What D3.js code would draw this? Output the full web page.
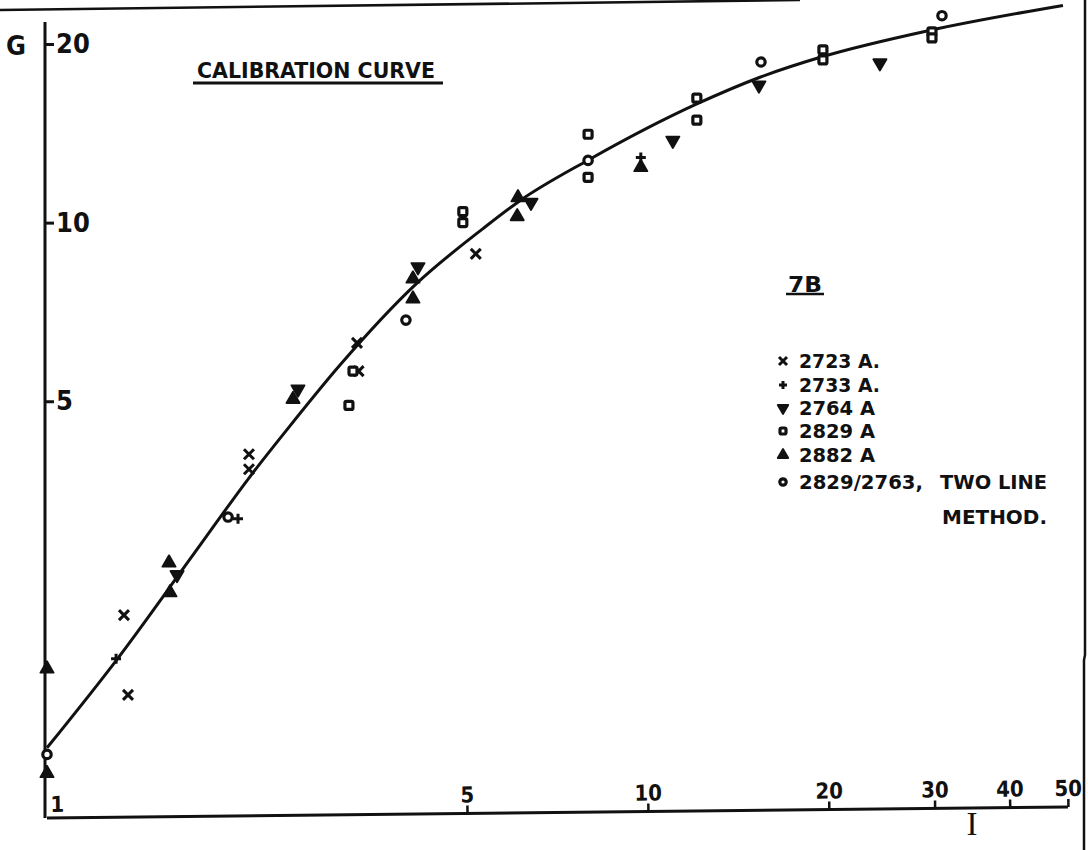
<!DOCTYPE html>
<html>
<head>
<meta charset="utf-8">
<script src="https://cdn.jsdelivr.net/npm/d3@7"></script>
<style>
  html, body { margin: 0; padding: 0; background: #fff; }
  svg { display: block; }
  text { font-family: "DejaVu Sans Condensed", "DejaVu Sans", sans-serif; font-weight: bold; fill: #111; }
</style>
</head>
<body>
<svg id="chart" width="1088" height="850"></svg>
<script>
// Calibration curve: G against I, both on logarithmic scales.
const curveI = [1.000, 1.308, 1.750, 2.177, 2.512, 3.073, 4.127, 5.315, 6.124, 7.947, 12.06, 15.36, 19.55, 29.46, 49.04];
const curveG = [1.303, 1.837, 2.754, 3.733, 4.487, 5.754, 7.907, 9.772, 10.89, 12.74, 15.85, 17.58, 19.05, 21.09, 23.23];

// Measured points [I, G] for each line
const pts2723 = [[1.343, 2.18], [1.364, 1.60], [2.168, 4.07], [2.168, 3.84], [3.28, 6.27], [3.30, 5.62], [5.17, 8.86]];
const pts2733 = [[1.303, 1.84], [2.079, 3.17], [9.73, 12.88]];
const pts2764 = [[1.646, 2.55], [2.616, 5.24], [4.143, 8.42], [6.388, 10.81], [11.0, 13.76], [15.30, 17.05], [24.32, 18.58]];
const pts2829 = [[3.23, 5.62], [3.18, 4.92], [4.92, 10.44], [4.92, 10.0], [7.95, 14.09], [7.95, 11.92], [12.06, 16.21], [12.06, 14.88], [19.55, 19.55], [19.55, 18.80], [29.69, 20.97], [29.69, 20.48]];
const pts2882 = [[1.0, 1.77], [1.0, 1.18], [1.596, 2.67], [1.602, 2.38], [2.567, 5.04], [4.064, 8.04], [4.064, 7.44], [6.077, 11.02], [6.06, 10.24], [9.73, 12.39]];
const pts2829_2763 = [[1.0, 1.27], [2.001, 3.19], [3.956, 6.85], [7.95, 12.73], [15.42, 18.65], [30.85, 22.32]];

const xTicks = [1, 5, 10, 20, 30, 40, 50];
const yTicks = [5, 10, 20];

const seriesLabels = ["2723 A.", "2733 A.", "2764 A", "2829 A", "2882 A", "2829/2763,"];
const seriesSymbols = ["cross", "plus", "triDown", "square", "triUp", "circle"];
const seriesPoints = [pts2723, pts2733, pts2764, pts2829, pts2882, pts2829_2763];

const svg = d3.select("#chart");
const ink = "#111";

const x = d3.scaleLog().domain([1, 50]).range([47, 1068]);
const y = d3.scaleLog().domain([1, 20]).range([816, 44]);

// Frame edges
svg.append("line").attr("x1", 0).attr("y1", 10).attr("x2", 800).attr("y2", 0)
  .attr("stroke", ink).attr("stroke-width", 2.5);
svg.append("polyline").attr("points", "1085,0 1085,655 1084,660 1084,850")
  .attr("fill", "none").attr("stroke", ink).attr("stroke-width", 2.5);

// Y axis
svg.append("line").attr("x1", 45).attr("y1", 22).attr("x2", 45).attr("y2", 818)
  .attr("stroke", ink).attr("stroke-width", 3);
const yAxis = svg.append("g").attr("transform", "translate(45,0)")
  .call(d3.axisRight(y).tickValues(yTicks).tickFormat(d3.format("d")).tickSize(9).tickPadding(2));
yAxis.select(".domain").remove();
yAxis.selectAll(".tick line").attr("stroke", ink).attr("stroke-width", 3);
yAxis.selectAll(".tick text").style("font-size", "27px").attr("fill", ink);

svg.append("text").attr("x", 16).attr("y", 45).attr("dy", "0.36em")
  .attr("text-anchor", "middle").style("font-size", "27px").text("G");

// X axis (slightly tilted baseline)
const xAxis = svg.append("g").attr("transform", "translate(0,818) rotate(-0.62,47,0)")
  .call(d3.axisTop(x).tickValues(xTicks).tickFormat(d3.format("d")).tickSize(8).tickPadding(3).tickSizeOuter(0));
xAxis.select(".domain").attr("stroke", ink).attr("stroke-width", 3)
  .attr("d", `M${x(1)},0H${x(50)}`);
xAxis.selectAll(".tick line").attr("stroke", ink).attr("stroke-width", 2.5);
xAxis.selectAll(".tick text").style("font-size", "22px").attr("fill", ink);
xAxis.selectAll(".tick").filter(d => d === 1).select("line").remove();
xAxis.selectAll(".tick").filter(d => d === 1).select("text").attr("dx", 10).attr("y", -6);

svg.append("text").attr("x", 972).attr("y", 835)
  .attr("text-anchor", "middle")
  .style("font-family", "'Liberation Serif', 'DejaVu Serif', serif")
  .style("font-weight", "normal").style("font-size", "33px").text("I");

// Title
svg.append("text").attr("x", 197).attr("y", 78)
  .attr("textLength", 238).attr("lengthAdjust", "spacingAndGlyphs")
  .style("font-size", "22px").text("CALIBRATION CURVE");
svg.append("line").attr("x1", 193).attr("y1", 83).attr("x2", 443).attr("y2", 83)
  .attr("stroke", ink).attr("stroke-width", 3);

// Calibration curve
const line = d3.line().x(d => x(d[0])).y(d => y(d[1])).curve(d3.curveMonotoneX);
svg.append("path").datum(d3.zip(curveI, curveG)).attr("d", line)
  .attr("fill", "none").attr("stroke", ink).attr("stroke-width", 3);

// Marker drawing
function drawMarker(g, type, cx, cy, s) {
  const h = s / 2;
  if (type === "cross") {
    g.append("path").attr("d", `M${cx - h},${cy - h}L${cx + h},${cy + h}M${cx - h},${cy + h}L${cx + h},${cy - h}`)
      .attr("stroke", ink).attr("stroke-width", 3).attr("fill", "none");
  } else if (type === "plus") {
    g.append("path").attr("d", `M${cx - h},${cy}L${cx + h},${cy}M${cx},${cy - h}L${cx},${cy + h}`)
      .attr("stroke", ink).attr("stroke-width", 3).attr("fill", "none");
  } else if (type === "triDown" || type === "triUp") {
    const sym = d3.symbol().type(d3.symbolTriangle).size(s * s * 0.75);
    g.append("path").attr("d", sym())
      .attr("transform", `translate(${cx},${cy})` + (type === "triDown" ? " rotate(180)" : ""))
      .attr("fill", ink).attr("stroke", ink).attr("stroke-width", 1.8).attr("stroke-linejoin", "round");
  } else if (type === "square") {
    g.append("rect").attr("x", cx - h + 1).attr("y", cy - h + 1).attr("width", s - 2).attr("height", s - 2)
      .attr("rx", 1.5).attr("fill", "#fff").attr("stroke", ink).attr("stroke-width", 3.2);
  } else if (type === "circle") {
    g.append("circle").attr("cx", cx).attr("cy", cy).attr("r", h - 0.8)
      .attr("fill", "#fff").attr("stroke", ink).attr("stroke-width", 3.2);
  }
}

const markers = svg.append("g");
seriesPoints.forEach((pts, i) => {
  pts.forEach(p => drawMarker(markers, seriesSymbols[i], x(p[0]), y(p[1]), 10));
});

// Legend
const legend = svg.append("g");
legend.append("text").attr("x", 788).attr("y", 292).style("font-size", "22px")
  .attr("textLength", 34).attr("lengthAdjust", "spacingAndGlyphs").text("7B");
legend.append("line").attr("x1", 786).attr("y1", 294).attr("x2", 824).attr("y2", 294)
  .attr("stroke", ink).attr("stroke-width", 2.5);

const rowY = [361, 385, 408, 431, 455, 482];
const rowW = [81, 81, 76, 76, 76, 124];
seriesLabels.forEach((lab, i) => {
  drawMarker(legend, seriesSymbols[i], 783, rowY[i], 8);
  legend.append("text").attr("x", 799).attr("y", rowY[i]).attr("dy", "0.36em")
    .attr("textLength", rowW[i]).attr("lengthAdjust", "spacingAndGlyphs")
    .style("font-size", "19.5px").text(lab);
});
legend.append("text").attr("x", 940).attr("y", 482).attr("dy", "0.36em")
  .attr("textLength", 107).attr("lengthAdjust", "spacingAndGlyphs")
  .style("font-size", "20px").text("TWO LINE");
legend.append("text").attr("x", 942).attr("y", 517).attr("dy", "0.36em")
  .attr("textLength", 105).attr("lengthAdjust", "spacingAndGlyphs")
  .style("font-size", "20px").text("METHOD.");
</script>
</body>
</html>
